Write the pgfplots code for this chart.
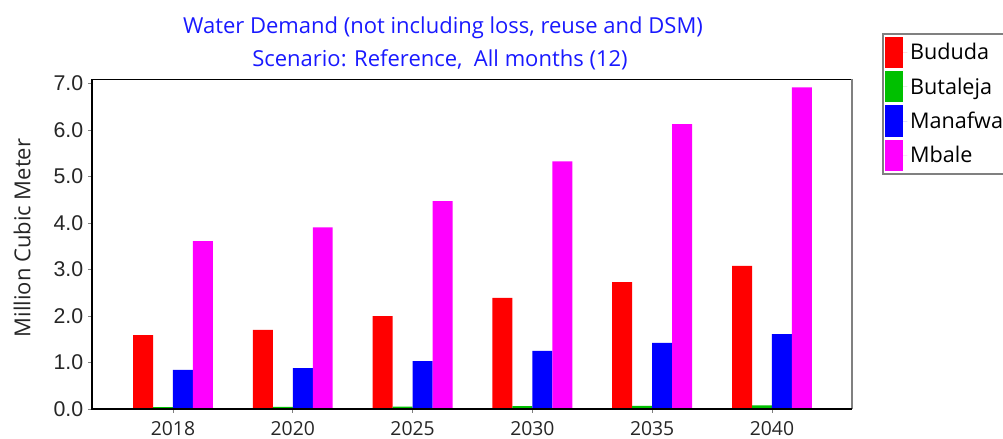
\documentclass[border=0pt]{standalone}
\usepackage{pgfplots}
\pgfplotsset{compat=1.18}
\usepackage{pgfplotstable}
\usepackage{fontspec}
\setmainfont{Open Sans}
\newfontfamily\arialf{Liberation Sans}
\definecolor{cBud}{RGB}{255,0,0}
\definecolor{cBut}{RGB}{0,192,0}
\definecolor{cMan}{RGB}{0,0,255}
\definecolor{cMba}{RGB}{255,0,255}
\definecolor{ttl}{RGB}{25,25,255}
\pgfplotstableread{
x Bududa Butaleja Manafwa Mbale
0 1.59 0.040 0.84 3.61
1 1.70 0.045 0.88 3.91
2 2.00 0.050 1.03 4.47
3 2.39 0.060 1.25 5.33
4 2.73 0.065 1.42 6.13
5 3.08 0.080 1.61 6.92
}\data
\begin{document}
\begin{tikzpicture}
\path[use as bounding box, clip] (0,0) rectangle (752.25pt,329.25pt);
\begin{axis}[
  at={(69pt,22.5pt)}, anchor=south west, scale only axis,
  width=570pt, height=247.5pt,
  ybar=0pt, bar width=0.1667,
  xmin=-0.676, xmax=5.668, ymin=0, ymax=7.1,
  xtick=data, xticklabels={2018,2020,2025,2030,2035,2040},
  ytick={0,1,...,7},
  /pgf/number format/assume math mode=true,
  yticklabel style={font=\arialf\fontsize{16}{16}\selectfont, text=black!85, /pgf/number format/.cd, fixed, fixed zerofill, precision=1},
  xticklabel style={font=\fontsize{14.5}{14.5}\selectfont, text=black!85, yshift=-2.5pt},
  tick align=outside, major tick length=3pt, tick style={gray, line width=0.6pt},
  xtick pos=bottom, ytick pos=left,
  axis line style={draw=none},
  clip=false,
  legend style={at={(rel axis cs:1,1)}, anchor=north west, xshift=22.5pt, yshift=34.5pt,
    draw=gray, line width=1.2pt, inner xsep=2pt, inner ysep=2.5pt, row sep=2.2pt,
    font=\fontsize{16.2}{16.2}\selectfont, cells={anchor=west}},
  legend image code/.code={\fill[#1, draw=none] (0pt,-11.7pt) rectangle (13.5pt,11.7pt); \path (0pt,0pt) -- (16.5pt,0pt);},
]
\addplot[fill=cBud, draw=none] table[x=x, y=Bududa] {\data};
\addplot[fill=cBut, draw=none] table[x=x, y=Butaleja] {\data};
\addplot[fill=cMan, draw=none] table[x=x, y=Manafwa] {\data};
\addplot[fill=cMba, draw=none] table[x=x, y=Mbale] {\data};
\legend{Bududa,Butaleja,Manafwa,Mbale}
\draw[black, line width=0.75pt] (rel axis cs:0,1) -- (rel axis cs:1,1);
\draw[gray, line width=1.5pt] (rel axis cs:1,0) -- (rel axis cs:1,1);
\draw[black, line width=1.5pt] (rel axis cs:0,1) -- (rel axis cs:0,0) -- (rel axis cs:1,0);
\end{axis}
\node[anchor=base, text=ttl, font=\fontsize{16.5}{16.5}\selectfont] at (332.25pt,303.75pt) {Water Demand (not including loss, reuse and DSM)};
\node[anchor=base, text=ttl, font=\fontsize{16.5}{16.5}\selectfont] at (330pt,279pt) {Scenario: Reference,\ \ All months (12)};
\node[rotate=90, text=black!85, font=\fontsize{16.5}{16.5}\selectfont] at (16.5pt,150.75pt) {Million Cubic Meter};
\end{tikzpicture}
\end{document}
